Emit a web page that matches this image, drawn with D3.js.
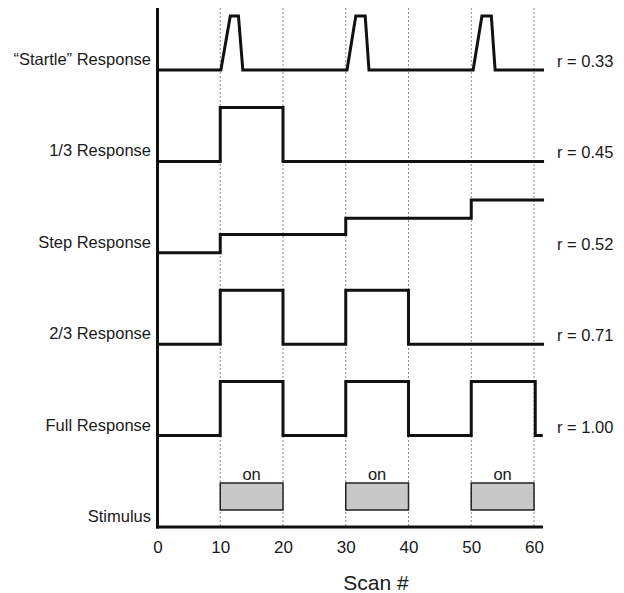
<!DOCTYPE html>
<html>
<head>
<meta charset="utf-8">
<script src="https://cdn.jsdelivr.net/npm/d3@7/dist/d3.min.js"></script>
<style>
  html, body { margin: 0; padding: 0; background: #fff; }
  svg { display: block; }
  text { font-family: "Liberation Sans", Arial, Helvetica, sans-serif; fill: #1a1a1a; }
</style>
</head>
<body>
<svg id="chart" width="624" height="593"></svg>
<script>
// ---- data ----
const rows = ["\u201CStartle\u201D Response", "1/3 Response", "Step Response", "2/3 Response", "Full Response", "Stimulus"];
const rValues = ["r = 0.33", "r = 0.45", "r = 0.52", "r = 0.71", "r = 1.00"];

// each trace: [scan, level 0..1]
const startleTrace = [[0,0],[10.1,0],[11.6,1],[12.9,1],[13.6,0],[30.2,0],[31.6,1],[33.1,1],[33.7,0],[50.3,0],[51.7,1],[53.2,1],[53.8,0],[61.6,0]];
const thirdTrace   = [[0,0],[10,0],[10,1],[20,1],[20,0],[61.6,0]];
const stepTrace    = [[0,0],[10,0],[10,0.34],[30,0.34],[30,0.64],[50,0.64],[50,0.98],[61.6,0.98]];
const twoThirdTrace= [[0,0],[10,0],[10,1],[20,1],[20,0],[30,0],[30,1],[40,1],[40,0],[61.6,0]];
const fullTrace    = [[0,0],[10,0],[10,1],[20,1],[20,0],[30,0],[30,1],[40,1],[40,0],[50,0],[50,1],[60.2,1],[60.2,0],[61.4,0]];
const traces = [startleTrace, thirdTrace, stepTrace, twoThirdTrace, fullTrace];

const stimulusBlocks = [[10,20],[30,40],[50,60]];
const stimulusLabel = "on";
const xTicks = [0,10,20,30,40,50,60];
const xTitle = "Scan #";

// ---- layout ----
const svg = d3.select("#chart");
const x = d3.scaleLinear().domain([0, 60]).range([157.5, 534]);
const rowY = d3.scalePoint().domain(rows).range([70, 527]);
const amp = d3.scaleLinear().domain([0, 1]).range([0, -54]);
const axisY = rowY("Stimulus");
const topY = 8;

// vertical dotted gridlines
svg.append("g").selectAll("line")
  .data(xTicks.slice(1))
  .join("line")
  .attr("x1", d => x(d)).attr("x2", d => x(d))
  .attr("y1", topY).attr("y2", axisY)
  .attr("stroke", "#8a8a8a").attr("stroke-width", 1)
  .attr("stroke-dasharray", "2,2");

// stimulus boxes
const stimG = svg.append("g");
stimG.selectAll("rect")
  .data(stimulusBlocks)
  .join("rect")
  .attr("x", d => x(d[0]))
  .attr("width", d => x(d[1]) - x(d[0]))
  .attr("y", axisY - 44)
  .attr("height", 27)
  .attr("fill", "#c8c8c8")
  .attr("stroke", "#222").attr("stroke-width", 1.5);
stimG.selectAll("text")
  .data(stimulusBlocks)
  .join("text")
  .attr("x", d => x((d[0] + d[1]) / 2))
  .attr("y", axisY - 47)
  .attr("text-anchor", "middle")
  .attr("font-size", 16.5)
  .text(stimulusLabel);

// traces
const line = d3.line().x(d => x(d[0]));
svg.append("g").selectAll("path")
  .data(traces)
  .join("path")
  .attr("d", (t, i) => {
    const base = rowY(rows[i]);
    return line.y(d => base + amp(d[1]))(t);
  })
  .attr("fill", "none")
  .attr("stroke", "#111")
  .attr("stroke-width", 3)
  .attr("stroke-linejoin", "miter");

// axes lines
svg.append("line")
  .attr("x1", x(0)).attr("x2", x(0))
  .attr("y1", topY).attr("y2", axisY + 1.5)
  .attr("stroke", "#111").attr("stroke-width", 3);
svg.append("line")
  .attr("x1", x(0) - 1.5).attr("x2", 543)
  .attr("y1", axisY).attr("y2", axisY)
  .attr("stroke", "#111").attr("stroke-width", 3);

// x tick labels
const xAxis = d3.axisBottom(x).tickValues(xTicks).tickSize(0).tickPadding(14).tickFormat(d3.format("d"));
const gx = svg.append("g").attr("transform", `translate(0,${axisY})`).call(xAxis);
gx.select(".domain").remove();
gx.selectAll("text")
  .attr("font-size", 17)
  .attr("font-family", "Liberation Sans, Arial, sans-serif")
  .attr("fill", "#1a1a1a");

// x title
svg.append("text")
  .attr("x", 376).attr("y", 590)
  .attr("text-anchor", "middle")
  .attr("font-size", 21)
  .text(xTitle);

// row labels (left)
svg.append("g").selectAll("text")
  .data(rows)
  .join("text")
  .attr("x", 151)
  .attr("y", d => rowY(d) - 5)
  .attr("text-anchor", "end")
  .attr("font-size", 16.5)
  .text(d => d);

// r labels (right)
svg.append("g").selectAll("text")
  .data(rValues)
  .join("text")
  .attr("x", 557)
  .attr("y", (d, i) => rowY(rows[i]) - 3)
  .attr("font-size", 16.5)
  .text(d => d);
</script>
</body>
</html>
